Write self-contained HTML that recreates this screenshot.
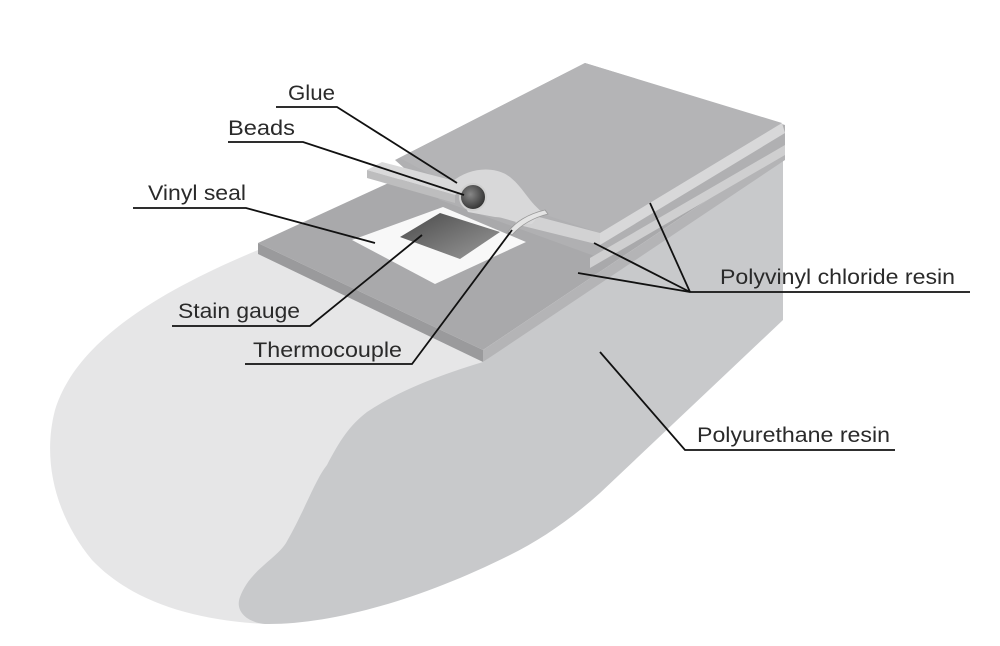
<!DOCTYPE html>
<html><head><meta charset="utf-8"><style>
html,body{margin:0;padding:0;background:#fff;}
svg{display:block}
text{font-family:"Liberation Sans",sans-serif;font-size:21px;fill:#2a2a2a;}
</style></head><body>
<svg width="1000" height="646" viewBox="0 0 1000 646" xmlns="http://www.w3.org/2000/svg">
<rect width="1000" height="646" fill="#fff"/>
<!-- light blob -->
<path d="M258,250 L483,362 L330,470 L265,624 C190,620 130,600 92,560 C55,515 42,460 55,410 C75,345 150,295 258,250 Z" fill="#e6e6e7"/>
<!-- dark blob / box side -->
<path d="M483,362 L783,150 L783,320 L600,493 C570,520 540,540 510,555 C420,600 330,625 265,624 C245,622 235,610 240,597 C250,570 275,560 286,543 C305,510 315,480 327,465 C340,440 350,425 367,412 C400,390 440,375 483,362 Z" fill="#c8c9cb"/>
<!-- lower plate top face -->
<path d="M258,243 L395,180 L600,150 L785,148 L483,350 Z" fill="#a9a9ab"/>
<path d="M258,243 L483,350 L483,362 L258,254 Z" fill="#9a9a9c"/>
<path d="M483,350 L785,148 L785,160 L483,362 Z" fill="#b4b4b6"/>
<!-- box top behind -->
<path d="M395,160 L585,63 L785,125 L785,148 L600,258 L440,200 Z" fill="#b0b0b2"/>
<!-- middle layer edge -->
<path d="M590,258 L785,145 L785,155 L590,268 Z" fill="#cfcfd0"/>
<!-- top plate -->
<path d="M400,158 L585,63 L782,123 L600,233 L540,213 L470,196 Z" fill="#b4b4b6"/>
<path d="M600,233 L782,123 L785,133 L600,245 Z" fill="#d8d8d9"/>
<path d="M520,212 L600,233 L600,245 L515,224 Z" fill="#d2d2d3"/>
<!-- vinyl seal white -->
<path d="M352,240 L443,207 L526,242 L435,284 Z" fill="#f8f8f8"/>
<defs><linearGradient id="g" x1="0" y1="0" x2="1" y2="1"><stop offset="0" stop-color="#4a4a4a"/><stop offset="1" stop-color="#9a9a9a"/></linearGradient>
<radialGradient id="t" cx="0.4" cy="0.4" r="0.6"><stop offset="0" stop-color="#888"/><stop offset="1" stop-color="#333"/></radialGradient></defs>
<path d="M400,237 L440,213 L500,232 L460,259 Z" fill="url(#g)"/>
<!-- leads strip -->
<path d="M367,170 L382,162 L470,185 L455,195 Z" fill="#d9d9da"/>
<path d="M367,170 L455,195 L455,203 L367,178 Z" fill="#bdbdbe"/>
<!-- glue bump -->
<path d="M452,182 C468,168 492,166 507,175 C522,185 527,200 542,212 L532,224 C515,224 505,217 495,217 L468,212 Z" fill="#d8d8d9"/>
<circle cx="473" cy="197" r="13" fill="url(#t)" stroke="#d0d0d0" stroke-width="2"/>
<path d="M508,232 C515,222 528,214 545,210 L548,214 C532,218 520,226 512,235 Z" fill="#e4e4e4" stroke="#999" stroke-width="0.8"/>
<!-- leaders -->
<g stroke="#111" stroke-width="1.8" fill="none">
<polyline points="276,107 337,107 457,183"/>
<polyline points="228,142 303,142 464,195"/>
<polyline points="133,208 246,208 375,243"/>
<polyline points="172,326 310,326 422,235"/>
<polyline points="245,364 412,364 512,230"/>
<polyline points="970,292 690,292 578,273"/>
<line x1="690" y1="292" x2="594" y2="243"/>
<line x1="690" y1="292" x2="650" y2="203"/>
<polyline points="895,450 685,450 600,352"/>
</g>
<text x="288" y="100" textLength="47" lengthAdjust="spacingAndGlyphs">Glue</text>
<text x="228" y="135" textLength="67" lengthAdjust="spacingAndGlyphs">Beads</text>
<text x="148" y="200" textLength="98" lengthAdjust="spacingAndGlyphs">Vinyl seal</text>
<text x="178" y="318" textLength="122" lengthAdjust="spacingAndGlyphs">Stain gauge</text>
<text x="253" y="357" textLength="149" lengthAdjust="spacingAndGlyphs">Thermocouple</text>
<text x="720" y="284" textLength="235" lengthAdjust="spacingAndGlyphs">Polyvinyl chloride resin</text>
<text x="697" y="442" textLength="193" lengthAdjust="spacingAndGlyphs">Polyurethane resin</text>
</svg>
</body></html>
